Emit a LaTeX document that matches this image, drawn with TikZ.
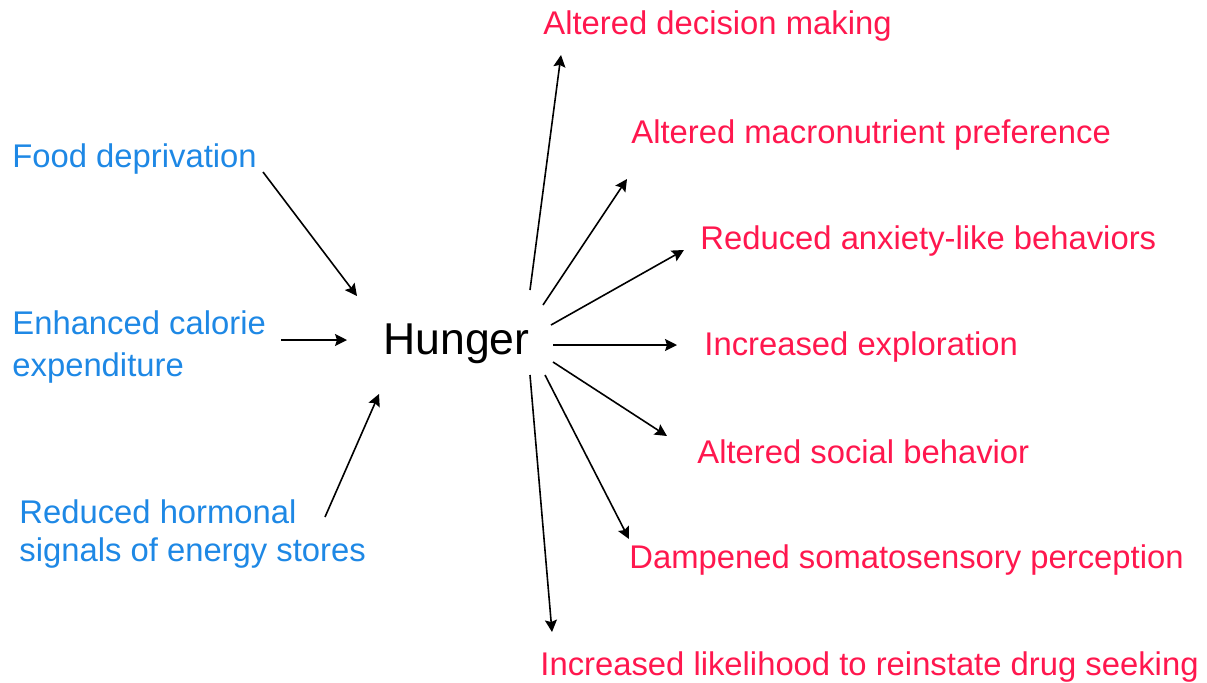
\documentclass[tikz,border=0pt]{standalone}
\usepackage{fontspec}
\setmainfont{Liberation Sans}
\usepackage{xcolor}
\usepackage{tikz}
\usetikzlibrary{arrows.meta}
\definecolor{causeblue}{RGB}{30,136,229}
\definecolor{effectred}{RGB}{255,23,78}
\tikzstyle{arrow} = [thick,->,>={Stealth[length=6pt,width=6pt,inset=1pt]}]
\tikzstyle{cause} = [anchor=base west,inner sep=0pt,align=left,text=causeblue,font=\fontsize{16.4}{21}\selectfont]
\tikzstyle{effect} = [anchor=base west,inner sep=0pt,text=effectred,font=\fontsize{16.4}{21}\selectfont]

\begin{document}
\begin{tikzpicture}[x=0.5pt,y=-0.5pt]
	\useasboundingbox (0,0) rectangle (1207,682);
	% Centre:
	\node [anchor=base west,inner sep=0pt,font=\fontsize{22.3}{26}\selectfont] (hunger) at (383,354) {Hunger};
	
	% Causes (base = last line):
	\node [cause] (food) at (12,167) {Food deprivation};
	\node [cause] (calorie) at (12,376) {Enhanced calorie\\expenditure};
	\node [cause,font=\fontsize{16.4}{19}\selectfont] (hormonal) at (19,561) {Reduced hormonal\\signals of energy stores};
	
	% Effects:
	\node [effect] (decision) at (543,34) {Altered decision making};
	\node [effect] (macro) at (631,143) {Altered macronutrient preference};
	\node [effect] (anxiety) at (700,249) {Reduced anxiety-like behaviors};
	\node [effect] (explore) at (704,355) {Increased exploration};
	\node [effect] (social) at (697,463) {Altered social behavior};
	\node [effect] (somato) at (629,568) {Dampened somatosensory perception};
	\node [effect] (drug) at (540,675) {Increased likelihood to reinstate drug seeking};
	
	% Arrow ends:
	\coordinate (food-a) at (263,172);   \coordinate (food-b) at (357,296);
	\coordinate (calorie-a) at (281,340); \coordinate (calorie-b) at (347,340);
	\coordinate (hormonal-a) at (325,517); \coordinate (hormonal-b) at (379,394);
	\coordinate (decision-a) at (530,290); \coordinate (decision-b) at (561,55);
	\coordinate (macro-a) at (543,305);  \coordinate (macro-b) at (627,179);
	\coordinate (anxiety-a) at (551,325); \coordinate (anxiety-b) at (684,250);
	\coordinate (explore-a) at (553,345); \coordinate (explore-b) at (677,345);
	\coordinate (social-a) at (553,362); \coordinate (social-b) at (667,436);
	\coordinate (somato-a) at (545,375); \coordinate (somato-b) at (629,539);
	\coordinate (drug-a) at (530,375);   \coordinate (drug-b) at (552,632);
	
	\foreach \n in {food,calorie,hormonal,decision,macro,anxiety,explore,social,somato,drug}{%
		\draw [arrow] (\n-a) -- (\n-b);
	}
\end{tikzpicture}
\end{document}
